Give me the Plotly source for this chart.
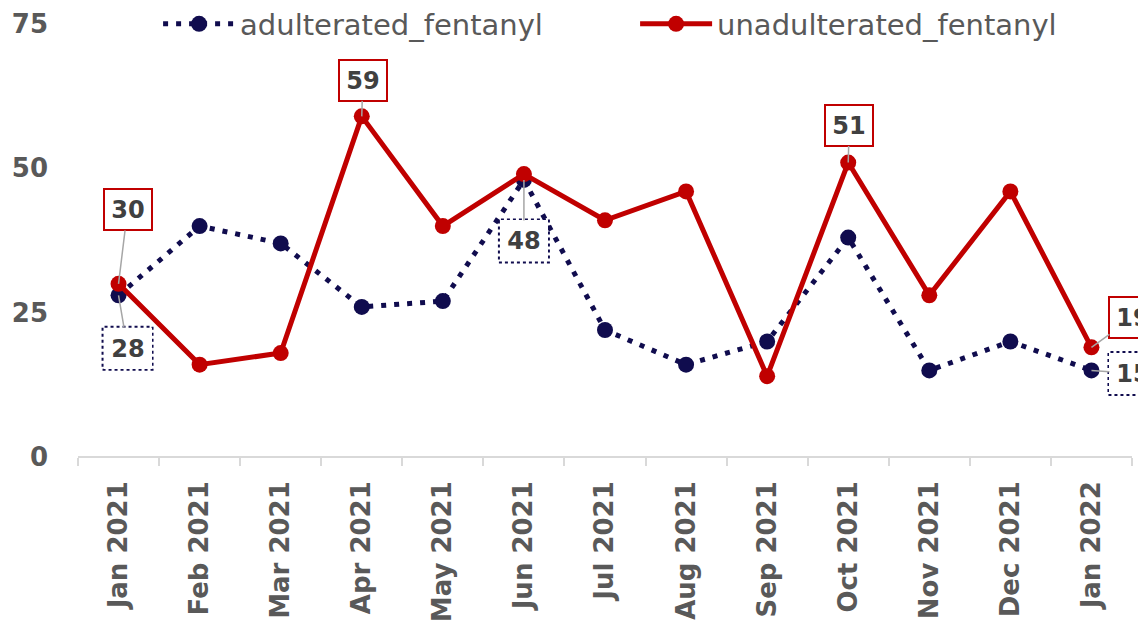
import plotly.graph_objects as go

months = ["Jan 2021", "Feb 2021", "Mar 2021", "Apr 2021", "May 2021", "Jun 2021", "Jul 2021",
          "Aug 2021", "Sep 2021", "Oct 2021", "Nov 2021", "Dec 2021", "Jan 2022"]
adulterated_fentanyl = [28, 40, 37, 26, 27, 48, 22, 16, 20, 38, 15, 20, 15]
unadulterated_fentanyl = [30, 16, 18, 59, 40, 49, 41, 46, 14, 51, 28, 46, 19]
y_ticks = [0, 25, 50, 75]

NAVY = "#100C4E"
RED = "#C00000"
GREY_TXT = "#595959"
LABEL_TXT = "#404040"
FONT = "DejaVu Sans"

fig = go.Figure()
fig.add_trace(go.Scatter(
    x=months, y=adulterated_fentanyl, name="adulterated_fentanyl", mode="lines+markers",
    line=dict(color=NAVY, width=5, dash="5px,8px"),
    marker=dict(color=NAVY, size=16), cliponaxis=False))
fig.add_trace(go.Scatter(
    x=months, y=unadulterated_fentanyl, name="unadulterated_fentanyl", mode="lines+markers",
    line=dict(color=RED, width=5),
    marker=dict(color=RED, size=16), cliponaxis=False))

# data labels: (series values, index, pixel offset x, pixel offset y, style)
labels = [
    (unadulterated_fentanyl, 0, 9, -74, "red"),
    (unadulterated_fentanyl, 3, 1, -36, "red"),
    (unadulterated_fentanyl, 9, 1, -37, "red"),
    (unadulterated_fentanyl, 12, 42, -30, "red"),
    (adulterated_fentanyl, 0, 9, 53, "navy"),
    (adulterated_fentanyl, 5, 0, 61, "navy"),
    (adulterated_fentanyl, 12, 42, 3, "navy"),
]
BW, BH = 50, 43
for series, i, ax, ay, style in labels:
    fig.add_annotation(
        x=months[i], y=series[i], xref="x", yref="y",
        text=str(series[i]), showarrow=True, arrowhead=0,
        arrowcolor="#A6A6A6", arrowwidth=1.5, ax=ax, ay=ay,
        font=dict(family=FONT, size=24, color=LABEL_TXT, weight="bold"),
        width=BW - 6, height=BH - 6, borderpad=1,
        bordercolor=RED if style == "red" else "rgba(0,0,0,0)", borderwidth=2,
        bgcolor="white")
    if style == "navy":
        fig.add_shape(
            type="rect", xref="x", yref="y", xsizemode="pixel", ysizemode="pixel",
            xanchor=months[i], yanchor=series[i],
            x0=ax - BW / 2, x1=ax + BW / 2, y0=-ay - BH / 2, y1=-ay + BH / 2,
            line=dict(color=NAVY, width=2, dash="dot"), layer="above")

# x axis baseline (ends at last category boundary)
fig.add_shape(type="line", xref="x", yref="paper", x0=-0.5, x1=12.5, y0=0, y1=0,
              line=dict(color="#D9D9D9", width=2), layer="below")

fig.update_layout(
    width=1146, height=629,
    margin=dict(l=70, r=8, t=16, b=180, autoexpand=False),
    paper_bgcolor="white", plot_bgcolor="white",
    font=dict(family=FONT, color=GREY_TXT),
    showlegend=True,
    legend=dict(orientation="h", x=0.075, xanchor="left", y=1.0, yanchor="middle",
                font=dict(family=FONT, size=29, color=GREY_TXT),
                itemwidth=72, entrywidth=390, bgcolor="rgba(0,0,0,0)"),
    xaxis=dict(type="category", range=[-0.5, 12.5 + 14 / 81], showgrid=False,
               showline=False, tickson="boundaries", ticks="outside", ticklen=8,
               tickwidth=2, tickcolor="#D9D9D9", tickangle=-90, automargin=False,
               tickfont=dict(family=FONT, size=26, color=GREY_TXT, weight="bold"),
               ticklabelstandoff=18),
    yaxis=dict(range=[0, 75], tickvals=y_ticks, showgrid=False, showline=False,
               zeroline=False, ticks="", ticklabelstandoff=29, automargin=False,
               tickfont=dict(family=FONT, size=26, color=GREY_TXT, weight="bold")),
)

fig.write_html("out.html")
